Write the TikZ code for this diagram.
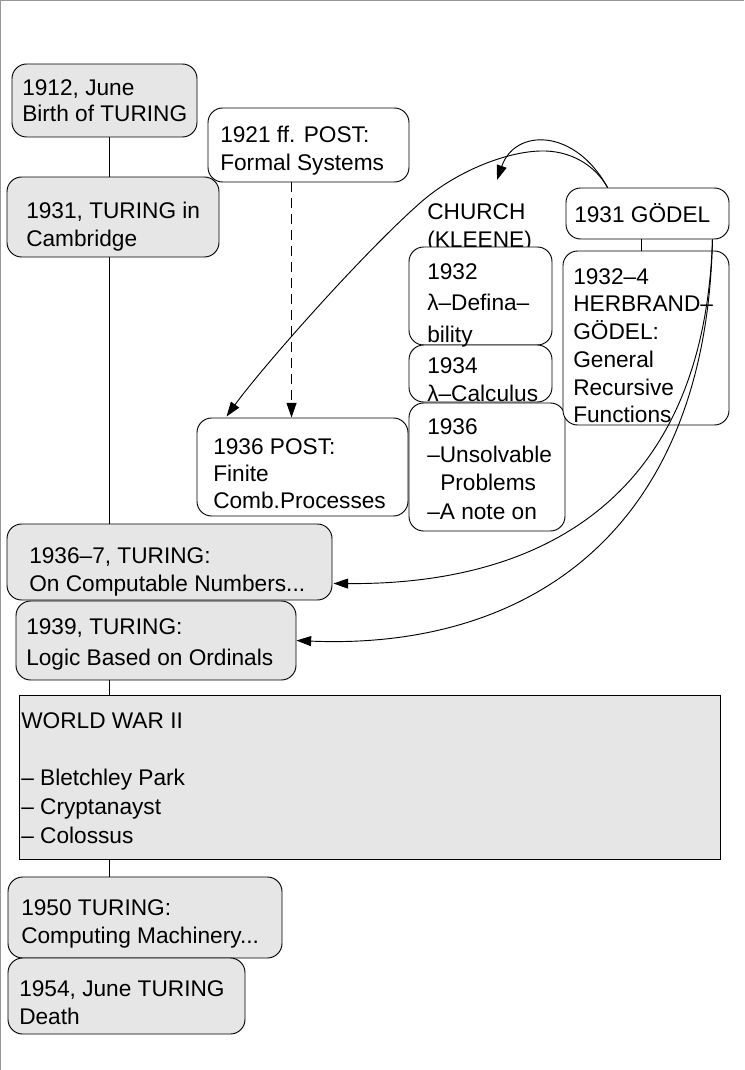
\documentclass[tikz,border=0pt]{standalone}
\usepackage{fontspec}
\setmainfont{Liberation Sans}
\usetikzlibrary{arrows.meta,calc}
\definecolor{boxgray}{RGB}{230,230,230}
\definecolor{framegray}{RGB}{150,150,150}
\newcommand\fs{\fontsize{17pt}{20.8pt}\selectfont}
\newcommand\fl{\rule{0pt}{16pt}}
\newcommand\bx[6]{\node[#6, minimum width={(#4-#2)*0.75pt}, minimum height={(#5-#3)*0.75pt}] (#1) at ({(#2+#4)/2},{(#3+#5)/2}) {};}
\newcommand\tx[4]{\node[txt] (#1) at (#2,{#3-13.2}) {\fl #4};}
\begin{document}
\begin{tikzpicture}[x=0.75pt,y=-0.75pt,
  gbox/.style={draw, fill=boxgray, rounded corners=11pt, line width=0.7pt, inner sep=0pt},
  wbox/.style={draw, fill=white, rounded corners=11pt, line width=0.7pt, inner sep=0pt},
  wwbox/.style={draw, fill=boxgray, line width=0.7pt, inner sep=0pt},
  txt/.style={anchor=north west, inner sep=0pt, align=left, font=\fs},
  tline/.style={draw, line width=0.7pt},
  conn/.style={draw, line width=0.7pt, -{Triangle[length=11pt,width=7.5pt]}}]
\useasboundingbox (0,0) rectangle (744,1070);
\fill[white] (0,0) rectangle (744,1070);
\draw[framegray, line width=0.8pt] (0.5,1070) -- (0.5,0.5) -- (744,0.5);
\coordinate (tl) at (109,0);
\coordinate (aCh) at (497,180);
% boxes
\bx{bBirth}{12}{64}{197}{137}{gbox}
\bx{bCam}{7}{177}{219}{257}{gbox}
\bx{bPostA}{208}{108}{409}{182}{wbox}
\bx{bPostB}{197}{418}{408}{516}{wbox}
\tx{tChurch}{427}{211}{CHURCH\\(KLEENE)}
\bx{bLamA}{409}{247}{552}{345}{wbox}
\bx{bLamB}{409}{345}{552}{402}{wbox}
\bx{bUns}{409}{403}{565}{531}{wbox}
\bx{bGod}{566}{188}{729}{239}{wbox}
\bx{bHerb}{563}{251}{729}{425}{wbox}
\bx{bComp}{7}{524}{332}{600}{gbox}
\bx{bOrd}{16}{601}{296}{680}{gbox}
\bx{bWar}{19}{695}{720}{859}{wwbox}
\bx{bMach}{8}{877}{282}{958}{gbox}
\bx{bDeath}{8}{958}{245}{1034}{gbox}
% texts
\tx{tBirth}{22}{86.7}{1912, June\\[-0.7pt]Birth of TURING}
\tx{tCam}{26}{210}{1931, TURING in\\Cambridge}
\tx{tPostA}{220}{134}{1921 ff. POST:\\Formal Systems}
\tx{tPostB}{213}{445.7}{1936 POST:\\[-0.5pt]Finite\\[-0.5pt]Comb.Processes}
\tx{tLamA}{427}{271.5}{1932\\[2.5pt]λ–Defina–\\[2.5pt]bility}
\tx{tLamB}{427}{365}{1934\\[0.6pt]λ–Calculus}
\tx{tUns}{427}{426}{1936\\[0.4pt]–Unsolvable\\[0.4pt]\hspace*{9.75pt}Problems\\[0.4pt]–A note on}
\tx{tGod}{574}{214}{1931 GÖDEL}
\tx{tHerb}{573}{275.7}{1932–4\\HERBRAND–\\GÖDEL:\\General\\Recursive\\Functions}
\tx{tComp}{29}{555}{1936–7, TURING:\\On Computable Numbers...}
\tx{tOrd}{26}{625.8}{1939, TURING:\\[2.3pt]Logic Based on Ordinals}
\tx{tWar}{21}{720}{WORLD WAR II\\[0.75pt]\mbox{}\\[0.75pt]– Bletchley Park\\[0.75pt]– Cryptanayst\\[0.75pt]– Colossus}
\tx{tMach}{21}{907.5}{1950 TURING:\\Computing Machinery...}
\tx{tDeath}{19}{988}{1954, June TURING\\Death}
% timeline
\draw[tline] (bBirth.south -| tl) -- (bCam.north -| tl);
\draw[tline] (bCam.south -| tl) -- (bComp.north -| tl);
\draw[tline] (bOrd.south -| tl) -- (bWar.north -| tl);
\draw[tline] (bWar.south -| tl) -- (bMach.north -| tl);
\draw[tline] ($(bGod.south west)+(76,0)$) -- ($(bHerb.north west)+(79,0)$);
% connectors
\draw[conn, dash pattern=on 7.5pt off 4.5pt] ($(bPostA.south west)+(84,0)$) -- ($(bPostB.north west)+(95,0)$);
\draw[conn] ($(bGod.north west)+(42,0)$) .. controls (575,128) and (515,128) .. (aCh);
\draw[conn] ($(bGod.north west)+(42,0)$) .. controls (595,165) and (570,150) .. (540,151)
  .. controls (505,152) and (455,172) .. (420,203)
  .. controls (360,256) and (260,370) .. ($(bPostB.north west)+(30,-1)$);
\draw[conn] ($(bGod.south east)+(-17,0)$) .. controls (704,500) and (540,585) .. ($(bComp.south east)+(1,-17)$);
\draw[conn] ($(bGod.south east)+(-17,0)$) .. controls (706,540) and (520,650) .. (bOrd.east);
\end{tikzpicture}
\end{document}
